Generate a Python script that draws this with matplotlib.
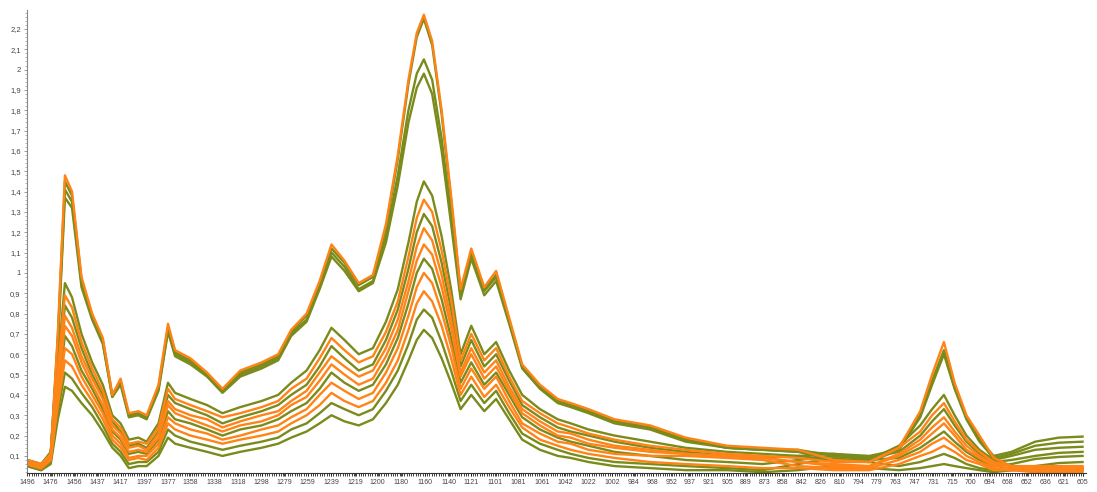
import numpy as np
import matplotlib
matplotlib.use("Agg")
from matplotlib import pyplot as plt
from matplotlib.ticker import FixedLocator, MultipleLocator, FuncFormatter


wavenumber = [
    1496, 1484, 1476, 1470, 1464, 1458, 1450, 1441, 1432, 1424, 1417, 1410, 1402, 1395, 1385, 1377, 1371,
    1358, 1344, 1331, 1316, 1298, 1284, 1273, 1260, 1249, 1239, 1228, 1216, 1204, 1193, 1183, 1174, 1167,
    1161, 1154, 1146, 1138, 1130, 1121, 1110, 1100, 1089, 1078, 1063, 1048, 1037, 1022, 1000, 970, 940,
    905, 875, 845, 815, 785, 760, 742, 732, 722, 713, 703, 692, 680, 665, 645, 625, 605,
]

tick_labels = [
    1496, 1476, 1456, 1437, 1417, 1397, 1377, 1358, 1338, 1318, 1298, 1279, 1259, 1239, 1219, 1200,
    1180, 1160, 1140, 1121, 1101, 1081, 1061, 1042, 1022, 1002, 984, 968, 952, 937, 921, 905, 889,
    873, 858, 842, 826, 810, 794, 779, 763, 747, 731, 715, 700, 684, 668, 652, 636, 621, 605,
]

# upper group
high_orange = [
    .06, .04, .10, .70, 1.48, 1.40, .98, .80, .68, .40, .48, .31, .32, .30, .45, .75, .62,
    .58, .51, .43, .52, .56, .60, .72, .80, .96, 1.14, 1.06, .95, .99, 1.24, 1.58, 1.95, 2.18,
    2.27, 2.14, 1.80, 1.38, .92, 1.12, .93, 1.01, .78, .55, .45, .38, .36, .33, .28, .25, .19,
    .15, .14, .13, .08, .07, .14, .32, .50, .66, .46, .30, .20, .09, .05, .04, .04, .04,
]
high_green_a = [
    .07, .05, .10, .68, 1.45, 1.38, .97, .79, .67, .40, .47, .30, .31, .29, .44, .73, .61,
    .57, .50, .42, .51, .55, .59, .71, .79, .95, 1.12, 1.05, .94, .98, 1.22, 1.56, 1.93, 2.16,
    2.25, 2.12, 1.78, 1.36, .91, 1.10, .92, .99, .77, .54, .44, .37, .35, .32, .27, .24, .18,
    .14, .13, .12, .08, .07, .13, .30, .47, .62, .44, .29, .19, .08, .05, .04, .04, .04,
]
high_green_b = [
    .07, .05, .10, .66, 1.41, 1.35, .95, .78, .66, .39, .46, .30, .31, .29, .43, .72, .60,
    .56, .50, .42, .50, .54, .58, .70, .77, .93, 1.10, 1.03, .92, .96, 1.18, 1.48, 1.80, 1.98,
    2.05, 1.95, 1.66, 1.28, .89, 1.09, .91, .98, .76, .54, .44, .37, .35, .32, .27, .24, .18,
    .14, .13, .13, .10, .09, .14, .30, .46, .61, .44, .29, .18, .10, .12, .17, .19, .195,
]
high_green_c = [
    .08, .06, .11, .64, 1.37, 1.32, .93, .77, .65, .39, .45, .29, .30, .28, .42, .71, .59,
    .55, .49, .41, .49, .53, .57, .69, .76, .92, 1.08, 1.01, .91, .95, 1.15, 1.43, 1.74, 1.91,
    1.98, 1.88, 1.60, 1.24, .87, 1.07, .89, .96, .75, .53, .43, .36, .34, .31, .26, .23, .17,
    .14, .13, .12, .11, .10, .13, .29, .45, .60, .43, .28, .17, .09, .11, .15, .165, .17,
]

# lower bundle, top to bottom
low_1 = [
    .08, .06, .12, .55, .95, .88, .70, .56, .45, .30, .26, .18, .19, .17, .26, .46, .41,
    .38, .35, .31, .34, .37, .40, .46, .52, .62, .73, .67, .60, .63, .76, .92, 1.15, 1.35,
    1.45, 1.38, 1.18, .92, .60, .74, .60, .66, .52, .40, .33, .28, .26, .23, .20, .17, .14,
    .12, .11, .10, .08, .08, .15, .25, .33, .40, .30, .20, .13, .08, .10, .13, .14, .145,
]
low_2 = [
    .08, .06, .11, .52, .89, .83, .66, .53, .42, .28, .24, .16, .17, .16, .24, .43, .38,
    .35, .32, .29, .31, .34, .37, .43, .48, .58, .68, .62, .56, .59, .71, .86, 1.08, 1.27,
    1.36, 1.30, 1.11, .87, .57, .70, .57, .63, .49, .37, .31, .26, .24, .21, .18, .15, .13,
    .11, .10, .09, .07, .07, .14, .22, .30, .36, .27, .18, .12, .07, .05, .04, .04, .04,
]
low_3 = [
    .07, .05, .11, .49, .84, .78, .63, .50, .40, .27, .22, .15, .16, .14, .22, .40, .36,
    .33, .30, .26, .29, .32, .35, .40, .45, .54, .64, .58, .52, .55, .67, .82, 1.02, 1.20,
    1.29, 1.23, 1.05, .82, .54, .67, .54, .60, .47, .35, .29, .24, .22, .20, .17, .14, .12,
    .10, .09, .10, .11, .09, .12, .20, .27, .33, .25, .17, .11, .07, .08, .10, .115, .12,
]
low_4 = [
    .07, .05, .10, .46, .79, .73, .59, .48, .38, .25, .21, .14, .15, .13, .21, .37, .33,
    .30, .28, .24, .27, .30, .32, .37, .42, .51, .59, .54, .49, .52, .63, .77, .96, 1.13,
    1.22, 1.16, .99, .77, .51, .63, .51, .57, .44, .33, .27, .22, .21, .18, .15, .13, .11,
    .10, .09, .07, .06, .05, .11, .18, .24, .29, .22, .15, .10, .06, .05, .05, .05, .05,
]
low_5 = [
    .06, .04, .09, .44, .74, .69, .56, .45, .35, .23, .19, .12, .13, .12, .19, .35, .31,
    .28, .25, .22, .25, .27, .30, .35, .39, .47, .55, .50, .45, .48, .59, .72, .91, 1.06,
    1.14, 1.09, .93, .73, .49, .60, .48, .54, .42, .31, .25, .20, .19, .16, .14, .12, .11,
    .10, .09, .07, .05, .05, .10, .16, .21, .26, .20, .13, .09, .05, .04, .04, .04, .04,
]
low_6 = [
    .06, .04, .09, .41, .69, .64, .52, .43, .33, .22, .18, .11, .12, .11, .18, .32, .28,
    .26, .23, .20, .23, .25, .28, .32, .36, .43, .51, .46, .42, .45, .55, .68, .85, 1.00,
    1.07, 1.02, .87, .68, .46, .56, .45, .51, .40, .29, .23, .19, .17, .15, .12, .10, .08,
    .07, .06, .08, .10, .08, .09, .14, .18, .22, .17, .12, .08, .05, .06, .085, .095, .10,
]
low_7 = [
    .06, .04, .08, .38, .63, .60, .49, .40, .31, .20, .16, .09, .10, .10, .16, .29, .26,
    .23, .21, .18, .20, .23, .25, .29, .33, .40, .46, .42, .38, .41, .51, .63, .79, .93,
    1.00, .95, .81, .64, .43, .53, .43, .49, .37, .26, .21, .17, .16, .13, .11, .10, .10,
    .09, .08, .05, .04, .04, .08, .12, .16, .19, .15, .10, .07, .04, .03, .03, .03, .03,
]
low_8 = [
    .06, .04, .08, .35, .57, .54, .45, .37, .28, .18, .14, .08, .09, .08, .14, .26, .23,
    .20, .18, .16, .18, .20, .22, .26, .30, .35, .41, .37, .34, .37, .46, .57, .72, .85,
    .91, .86, .74, .58, .40, .49, .39, .45, .34, .24, .18, .15, .13, .11, .09, .07, .06,
    .05, .04, .04, .03, .03, .06, .10, .12, .15, .12, .08, .06, .03, .03, .02, .02, .02,
]
low_9 = [
    .05, .03, .07, .32, .51, .48, .41, .34, .25, .16, .12, .06, .07, .07, .12, .23, .20,
    .17, .15, .13, .15, .17, .19, .23, .26, .31, .36, .33, .30, .33, .42, .52, .65, .77,
    .82, .78, .66, .52, .37, .45, .36, .42, .31, .21, .16, .13, .11, .09, .07, .06, .05,
    .04, .03, .06, .09, .07, .05, .07, .09, .11, .09, .06, .04, .03, .03, .03, .03, .03,
]
low_10 = [
    .05, .03, .06, .28, .44, .42, .36, .30, .22, .14, .10, .04, .05, .05, .10, .19, .16,
    .14, .12, .10, .12, .14, .16, .19, .22, .26, .30, .27, .25, .28, .36, .45, .57, .67,
    .72, .68, .58, .46, .33, .40, .32, .38, .28, .18, .13, .10, .09, .07, .05, .04, .03,
    .03, .02, .03, .05, .04, .03, .04, .05, .06, .05, .04, .03, .02, .03, .05, .065, .07,
]

green = "#7b8b1b"
orange = "#ff8418"

green_lines = [high_green_c, high_green_b, high_green_a, low_10, low_9, low_6, low_3, low_1]
orange_lines = [low_8, low_7, low_5, low_4, low_2, high_orange]

plt.rcParams["font.family"] = ["Liberation Sans", "DejaVu Sans"]

fig = plt.figure(figsize=(10.97, 4.92), dpi=100)
ax = fig.add_axes([27 / 1097, 19 / 492, 1058.5 / 1097, 463 / 492])

for y in green_lines:
    ax.plot(wavenumber, y, color=green, lw=1.7, solid_joinstyle="round")
for y in orange_lines:
    ax.plot(wavenumber, y, color=orange, lw=1.7, solid_joinstyle="round")

ax.set_xlim(1496, 602.5)
ax.set_ylim(0.016, 2.293)

ax.xaxis.set_major_locator(FixedLocator(tick_labels))
ax.set_xticklabels([str(t) for t in tick_labels])
ax.xaxis.set_minor_locator(FixedLocator(np.arange(1496, 602, -1.93)))
ax.tick_params(axis="x", which="major", length=2.5, width=0.6, color="#222222",
               labelsize=5, labelcolor="#444444", pad=1.5)
ax.tick_params(axis="x", which="minor", length=2.5, width=0.6, color="#222222")

ax.yaxis.set_major_locator(MultipleLocator(0.1))
ax.yaxis.set_minor_locator(MultipleLocator(0.02))
ax.yaxis.set_major_formatter(FuncFormatter(lambda v, p: f"{v:g}".replace(".", ",")))
ax.tick_params(axis="y", which="major", length=2.5, width=0.6, color="#888888",
               labelsize=5.5, labelcolor="#444444", pad=2)
ax.tick_params(axis="y", which="minor", length=1.5, width=0.5, color="#999999")

ax.spines["top"].set_visible(False)
ax.spines["right"].set_visible(False)
ax.spines["left"].set_color("#888888")
ax.spines["bottom"].set_color("#333333")

fig.savefig("out.png", dpi=100)
